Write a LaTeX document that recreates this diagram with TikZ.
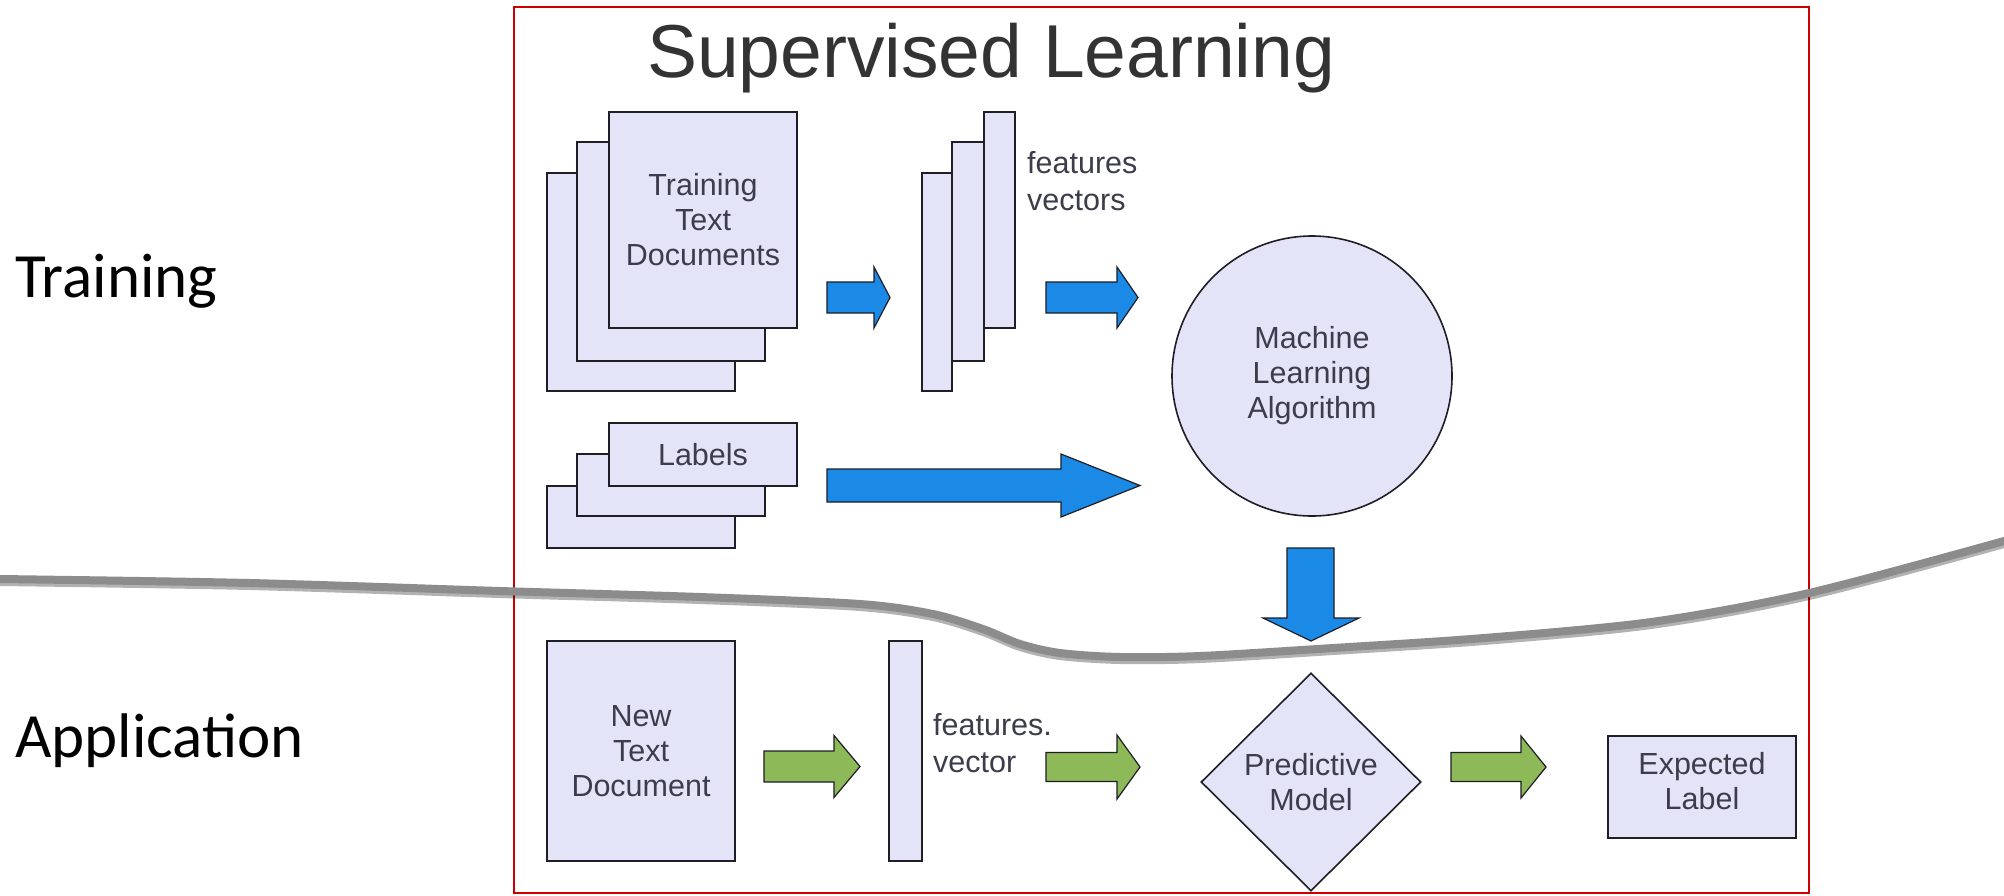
\documentclass[tikz,border=0pt]{standalone}
\usepackage{fontspec}
\setmainfont{Liberation Sans}
\newfontfamily\sidefont{Carlito}
\usetikzlibrary{shapes.geometric}

\definecolor{boxfill}{HTML}{E4E4F8}
\definecolor{boxline}{HTML}{1E1E24}
\definecolor{txt}{HTML}{3C3C4A}
\definecolor{titlecol}{HTML}{333333}
\definecolor{flowblue}{HTML}{1A8AE6}
\definecolor{flowgreen}{HTML}{8DB959}
\definecolor{framered}{HTML}{CC0000}
\definecolor{divider}{HTML}{8C8C8C}

\tikzset{
  box/.style={draw=boxline, fill=boxfill, line width=2pt, inner sep=0pt,
    align=center, text=txt, font=\fontsize{30.5}{35}\selectfont},
  freetext/.style={inner sep=0pt, text=txt, font=\fontsize{30.5}{35}\selectfont},
  sidelabel/.style={inner sep=0pt, text=black, font=\sidefont\fontsize{63}{70}\selectfont},
  bluearrow/.style={fill=flowblue, draw=boxline, line width=1.2pt, line join=miter},
  greenarrow/.style={fill=flowgreen, draw=boxline, line width=1.2pt, line join=miter},
}

% block arrow pointing right: style, tail x, head base x, tip x, centre y, shaft half, head half
\newcommand\rblock[7]{%
  \draw[#1] (#2,{#5-#6}) -- (#3,{#5-#6}) -- (#3,{#5-#7}) -- (#4,#5)
    -- (#3,{#5+#7}) -- (#3,{#5+#6}) -- (#2,{#5+#6}) -- cycle;}

\begin{document}
\begin{tikzpicture}[x=1pt,y=-1pt]
\useasboundingbox (0,0) rectangle (2004,895);
\fill[white] (0,0) rectangle (2004,895);

% frame and title
\draw[framered, line width=2.5pt] (514,7) rectangle (1809,893);
\node[inner sep=0pt, anchor=base west, text=titlecol,
      font=\fontsize{75}{90}\selectfont] (title) at (647,77) {Supervised Learning};

% training documents stack
\node[box, minimum width=188pt, minimum height=218pt] (tdocA) at (641,282) {};
\node[box, minimum width=188pt, minimum height=219pt] (tdocB) at (671,251.5) {};
\node[box, minimum width=188pt, minimum height=216pt] (tdocC) at (703,220)
  {Training\\Text\\Documents};

% feature vector stack
\node[box, minimum width=30pt, minimum height=218pt] (fvA) at (937,282) {};
\node[box, minimum width=32pt, minimum height=219pt] (fvB) at (968,251.5) {};
\node[box, minimum width=31pt, minimum height=216pt] (fvC) at (999.5,220) {};
\node[freetext, anchor=base west] (fvt1) at (1027,173) {features};
\node[freetext, anchor=base west] (fvt2) at (1027,210) {vectors};

% labels stack
\node[box, minimum width=188pt, minimum height=62pt] (labA) at (641,517) {};
\node[box, minimum width=188pt, minimum height=62pt] (labB) at (671,485) {};
\node[box, minimum width=188pt, minimum height=63pt] (labC) at (703,454.5) {Labels};

% learning algorithm
\node[box, circle, line width=1.6pt, minimum size=280pt] (mla) at (1312,376)
  {Machine\\Learning\\Algorithm};

% training flow arrows
\rblock{bluearrow}{827}{874}{890}{297.5}{15.5}{30.5}
\rblock{bluearrow}{1046}{1117}{1138}{297.5}{15.5}{30.5}
\rblock{bluearrow}{827}{1061}{1140}{485.5}{16.5}{31.5}
\draw[bluearrow] (1287,548) -- (1334,548) -- (1334,618) -- (1359,618) -- (1311,641)
  -- (1263,618) -- (1287,618) -- cycle;

% application row
\node[box, minimum width=188pt, minimum height=220pt] (ndoc) at (641,751)
  {New\\Text\\Document};
\node[box, minimum width=33pt, minimum height=220pt] (nvec) at (905.5,751) {};
\node[freetext, anchor=base west] (nvt1) at (933,735) {features.};
\node[freetext, anchor=base west] (nvt2) at (933,772) {vector};
\node[box, diamond, line width=1.6pt, minimum width=220pt, minimum height=218pt]
  (model) at (1311,782) {Predictive\\Model};
\node[box, minimum width=188pt, minimum height=102pt] (out) at (1702,787) {};
\node[freetext, align=center] (outt) at (1702,781) {Expected\\Label};

\rblock{greenarrow}{764}{834}{860}{766.5}{15.5}{31}
\rblock{greenarrow}{1046}{1117}{1140}{767}{14.5}{32}
\rblock{greenarrow}{1451}{1521}{1546}{767}{14.5}{31}

% dividing line between the two phases
\draw[black, opacity=0.3, line width=8pt, line cap=round, yshift=-3pt]
  plot[smooth, tension=0.5] coordinates {(0,579) (250,583) (500,591) (700,597)
  (860,604) (933,614) (983,629) (1020,644) (1060,653) (1120,657) (1200,656)
  (1333,648) (1484,638) (1651,622) (1809,593) (2004,541)};
\draw[divider, line width=8pt, line cap=round]
  plot[smooth, tension=0.5] coordinates {(0,579) (250,583) (500,591) (700,597)
  (860,604) (933,614) (983,629) (1020,644) (1060,653) (1120,657) (1200,656)
  (1333,648) (1484,638) (1651,622) (1809,593) (2004,541)};

% phase labels
\node[sidelabel, anchor=base west] (phase1) at (15,297) {Training};
\node[sidelabel, anchor=base west] (phase2) at (15,757) {Application};
\end{tikzpicture}
\end{document}
